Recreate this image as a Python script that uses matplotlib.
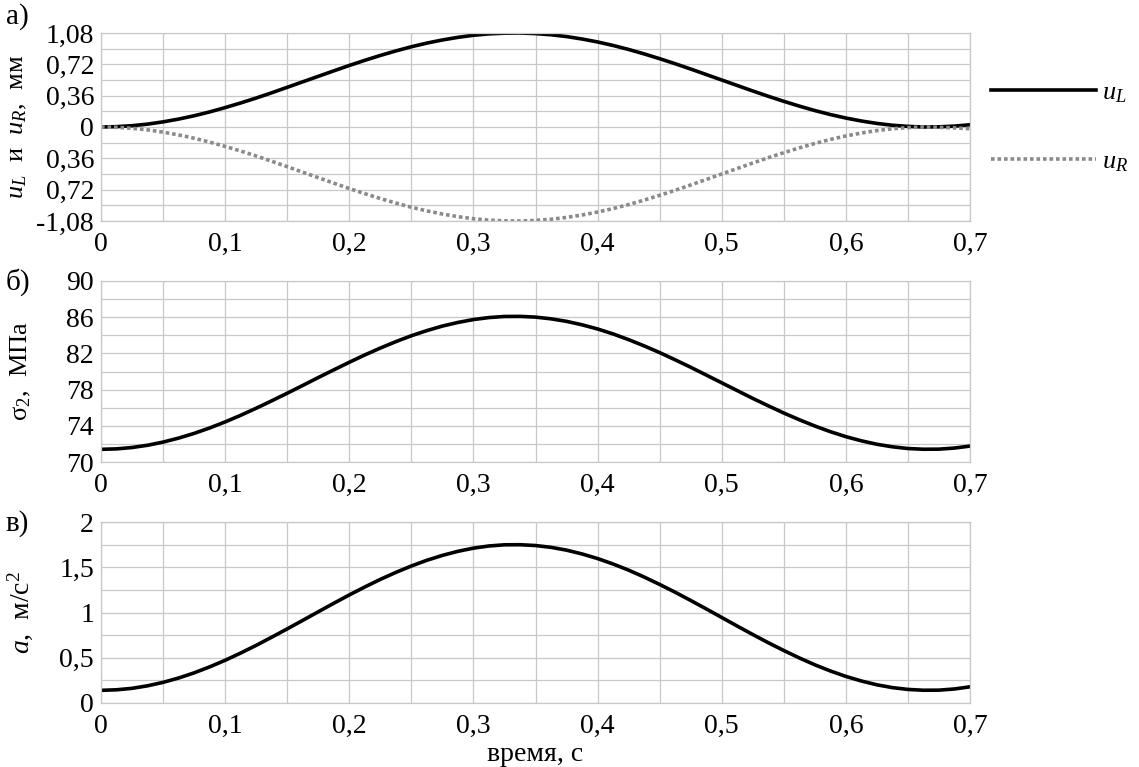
import matplotlib
matplotlib.use("Agg")
import numpy as np
import matplotlib.pyplot as plt
from matplotlib.ticker import MultipleLocator, FixedLocator

plt.rcParams['font.family'] = ['Liberation Serif', 'DejaVu Serif']
plt.rcParams['mathtext.fontset'] = 'custom'
plt.rcParams['mathtext.rm'] = 'Liberation Serif'
plt.rcParams['mathtext.it'] = 'Liberation Serif:italic'

t = np.arange(57) * 0.0125

u_L = [0.000, 0.004, 0.015, 0.033, 0.059, 0.091, 0.129, 0.173, 0.223, 0.276,
       0.333, 0.393, 0.456, 0.519, 0.582, 0.645, 0.707, 0.766, 0.822, 0.874,
       0.922, 0.964, 1.000, 1.030, 1.054, 1.070, 1.078, 1.080, 1.073, 1.060,
       1.039, 1.011, 0.977, 0.937, 0.891, 0.840, 0.785, 0.727, 0.666, 0.603,
       0.540, 0.477, 0.414, 0.353, 0.295, 0.240, 0.189, 0.143, 0.103, 0.069,
       0.041, 0.020, 0.007, 0.000, 0.002, 0.010, 0.026]

u_R = [0.000, -0.004, -0.015, -0.033, -0.059, -0.091, -0.129, -0.173, -0.223, -0.276,
       -0.333, -0.393, -0.456, -0.519, -0.582, -0.645, -0.707, -0.766, -0.822, -0.874,
       -0.922, -0.964, -1.000, -1.030, -1.054, -1.070, -1.078, -1.080, -1.073, -1.060,
       -1.039, -1.011, -0.977, -0.937, -0.891, -0.840, -0.785, -0.727, -0.666, -0.603,
       -0.540, -0.477, -0.414, -0.353, -0.295, -0.240, -0.189, -0.143, -0.103, -0.069,
       -0.041, -0.020, -0.007, 0.000, -0.004, -0.010, -0.020]

sigma2 = [71.40, 71.45, 71.60, 71.85, 72.20, 72.64, 73.16, 73.76, 74.43, 75.16,
          75.94, 76.76, 77.60, 78.46, 79.33, 80.18, 81.02, 81.83, 82.59, 83.30,
          83.95, 84.52, 85.02, 85.42, 85.74, 85.96, 86.08, 86.09, 86.01, 85.82,
          85.54, 85.16, 84.70, 84.15, 83.52, 82.83, 82.09, 81.29, 80.47, 79.61,
          78.75, 77.89, 77.03, 76.21, 75.41, 74.67, 73.98, 73.35, 72.80, 72.34,
          71.96, 71.68, 71.49, 71.41, 71.42, 71.54, 71.76]

accel = [0.140, 0.146, 0.162, 0.190, 0.228, 0.276, 0.333, 0.399, 0.472, 0.552,
         0.637, 0.727, 0.819, 0.913, 1.008, 1.102, 1.194, 1.282, 1.366, 1.443,
         1.514, 1.577, 1.631, 1.676, 1.711, 1.735, 1.748, 1.749, 1.740, 1.720,
         1.689, 1.647, 1.596, 1.536, 1.468, 1.392, 1.310, 1.224, 1.133, 1.040,
         0.945, 0.850, 0.757, 0.666, 0.580, 0.498, 0.422, 0.354, 0.294, 0.243,
         0.201, 0.170, 0.150, 0.141, 0.142, 0.155, 0.179]

x_ticks = [0, 0.1, 0.2, 0.3, 0.4, 0.5, 0.6, 0.7]
x_lbls = ['0', '0,1', '0,2', '0,3', '0,4', '0,5', '0,6', '0,7']
ua_ticks = [1.08, 0.72, 0.36, 0, -0.36, -0.72, -1.08]
ua_lbls = ['1,08', '0,72', '0,36', '0', '0,36', '0,72', '-1,08']
sig_ticks = [70, 74, 78, 82, 86, 90]
acc_ticks = [0, 0.5, 1, 1.5, 2]
acc_lbls = ['0', '0,5', '1', '1,5', '2']

GRID = '#c8c8c8'
FS = 20

fig = plt.figure(figsize=(11.39, 7.67), dpi=100)
L, W = 101 / 1139, 869 / 1139
ax_a = fig.add_axes([L, 1 - 221 / 767, W, 188 / 767])
ax_b = fig.add_axes([L, 1 - 462 / 767, W, 181 / 767])
ax_c = fig.add_axes([L, 1 - 703 / 767, W, 181 / 767])


def style(ax, yminor):
    ax.set_xlim(0, 0.7)
    ax.set_xticks(x_ticks)
    ax.set_xticklabels(x_lbls)
    ax.xaxis.set_minor_locator(MultipleLocator(0.05))
    ax.yaxis.set_minor_locator(MultipleLocator(yminor))
    ax.grid(True, which='both', color=GRID, lw=0.9)
    ax.set_axisbelow(True)
    ax.tick_params(which='both', length=0, labelsize=FS)
    ax.tick_params(axis='x', pad=8)
    ax.tick_params(axis='y', pad=5)
    for s in ax.spines.values():
        s.set_color(GRID)
        s.set_linewidth(0.9)


# а) displacements
ax_a.plot(t, u_L, color='black', lw=2.6, label='$u_L$')
ax_a.plot(t, u_R, color='#8a8a8a', lw=2.6, ls=(0, (1, 0.8)), label='$u_R$')
style(ax_a, 0.18)
ax_a.set_ylim(-1.08, 1.08)
ax_a.yaxis.set_major_locator(FixedLocator(ua_ticks))
ax_a.set_yticklabels(ua_lbls)
ax_a.set_ylabel('$u_L$  и  $u_R$,  мм', fontsize=19)
ax_a.yaxis.set_label_coords(-0.083, 0.5)
ax_a.legend(loc='center left', bbox_to_anchor=(1.024, 0.5), frameon=False,
            fontsize=19, handlelength=4.0, handletextpad=0.2,
            labelspacing=1.7, borderpad=0, borderaxespad=0)

# б) stress
ax_b.plot(t, sigma2, color='black', lw=2.6)
style(ax_b, 2)
ax_b.set_ylim(70, 90)
ax_b.set_yticks(sig_ticks)
ax_b.set_ylabel('σ$_2$,  МПа', fontsize=19)
ax_b.yaxis.set_label_coords(-0.078, 0.5)

# в) acceleration
ax_c.plot(t, accel, color='black', lw=2.6)
style(ax_c, 0.25)
ax_c.set_ylim(0, 2)
ax_c.set_yticks(acc_ticks)
ax_c.set_yticklabels(acc_lbls)
ax_c.set_ylabel('$a$,  м/с$^2$', fontsize=20)
ax_c.yaxis.set_label_coords(-0.076, 0.5)
ax_c.set_xlabel('время, с', fontsize=20, labelpad=2)

# panel letters
fig.text(0.005, 0.978, 'а)', fontsize=21, va='center')
fig.text(0.005, 0.632, 'б)', fontsize=21, va='center')
fig.text(0.005, 0.317, 'в)', fontsize=21, va='center')

fig.savefig('out.png', dpi=100)
